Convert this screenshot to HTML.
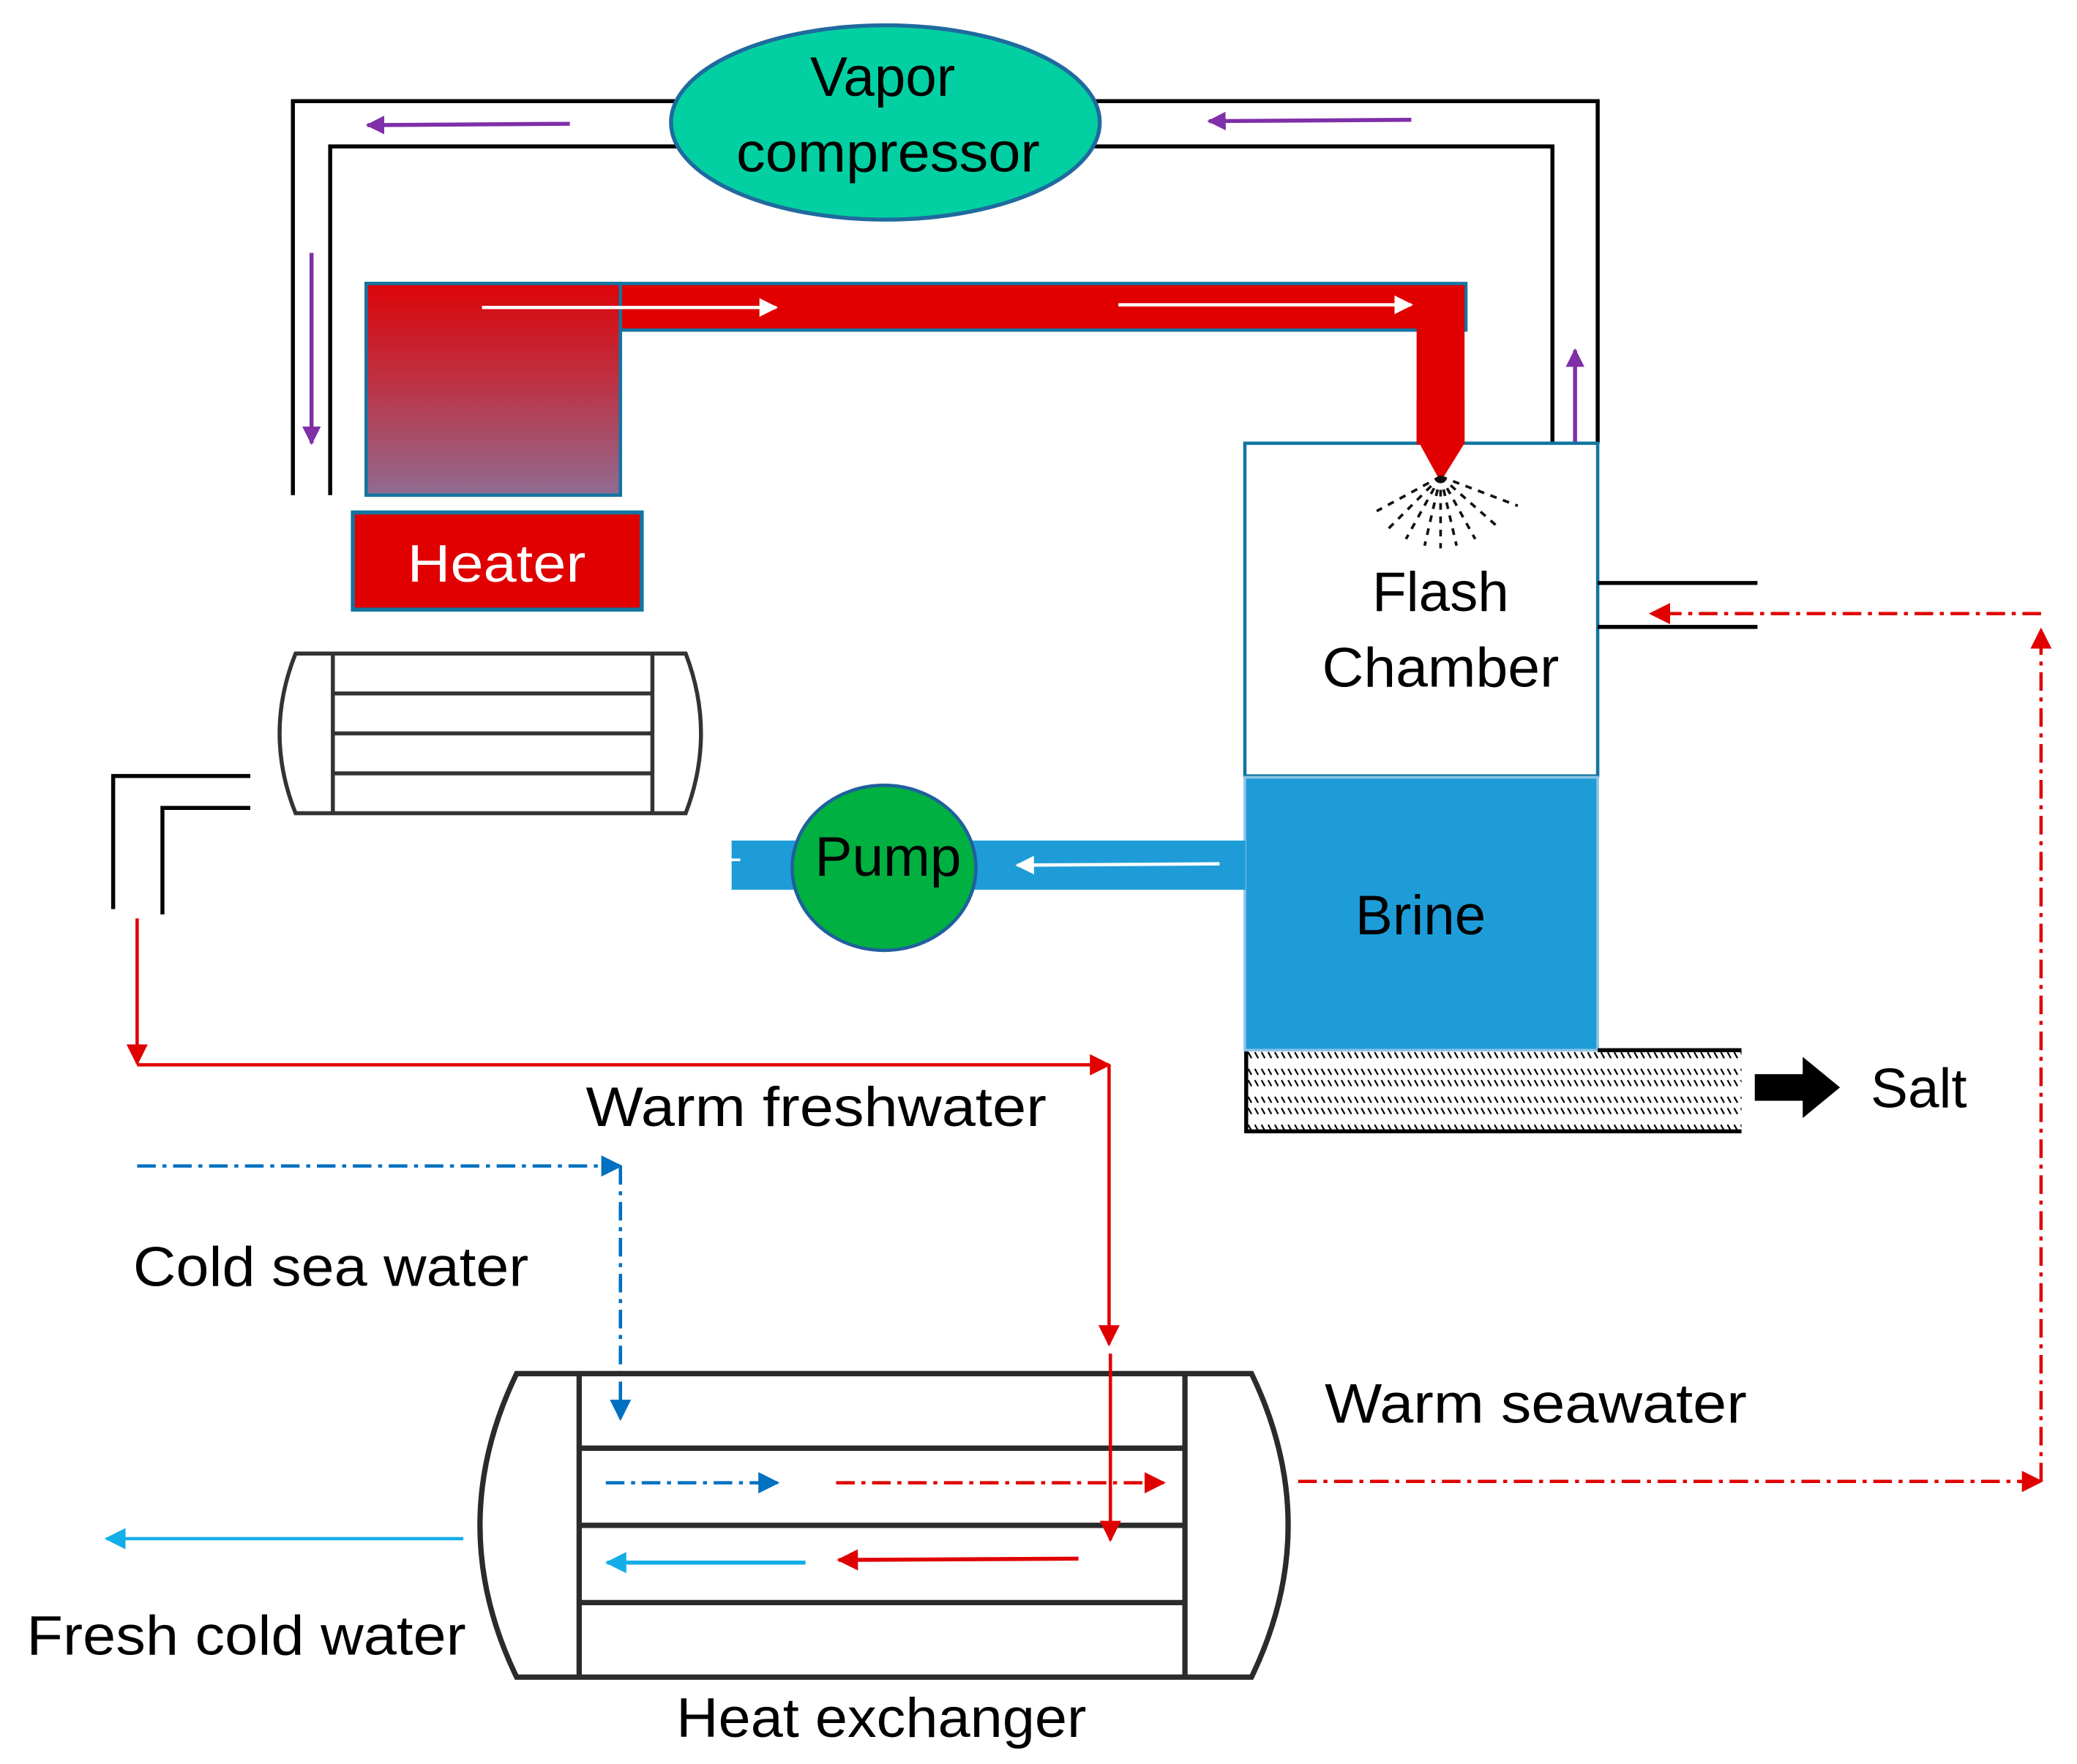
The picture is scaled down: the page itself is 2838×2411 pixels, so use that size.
<!DOCTYPE html>
<html><head><meta charset="utf-8"><style>html,body{margin:0;padding:0;background:#fff}svg{display:block}</style></head>
<body>
<svg width="2838" height="2411" viewBox="0 0 1560 1325.3" preserveAspectRatio="none" xmlns="http://www.w3.org/2000/svg" font-family="'Liberation Sans', sans-serif">
<defs>
<linearGradient id="hg" x1="0" y1="0" x2="0" y2="1"><stop offset="0" stop-color="#dc0408"/><stop offset="0.5" stop-color="#bb3548"/><stop offset="1" stop-color="#906c92"/></linearGradient>
<marker id="ap" viewBox="0 0 10 10" refX="9" refY="5" markerWidth="14" markerHeight="14" orient="auto" markerUnits="userSpaceOnUse"><path d="M0,0L10,5L0,10z" fill="#7f2fa8"/></marker>
<marker id="aw" viewBox="0 0 10 10" refX="9" refY="5" markerWidth="18" markerHeight="14" orient="auto" markerUnits="userSpaceOnUse"><path d="M0,0L10,5L0,10z" fill="#fff"/></marker>
<marker id="ar" viewBox="0 0 10 10" refX="9" refY="5" markerWidth="16" markerHeight="16" orient="auto" markerUnits="userSpaceOnUse"><path d="M0,0L10,5L0,10z" fill="#e00000"/></marker>
<marker id="ab" viewBox="0 0 10 10" refX="9" refY="5" markerWidth="16" markerHeight="16" orient="auto" markerUnits="userSpaceOnUse"><path d="M0,0L10,5L0,10z" fill="#0070c0"/></marker>
<marker id="alb" viewBox="0 0 10 10" refX="9" refY="5" markerWidth="16" markerHeight="16" orient="auto" markerUnits="userSpaceOnUse"><path d="M0,0L10,5L0,10z" fill="#13aee8"/></marker>
<pattern id="hatch" width="5" height="21" patternUnits="userSpaceOnUse" x="937" y="790"><path d="M0.5,0.5L3,5 M0.5,13L3,17.5 M0.5,25L3,29" stroke="#000" stroke-width="1.2"/></pattern>
</defs>

<g stroke="#000" stroke-width="3" fill="none">
<polyline points="220,372 220,76 510,76"/>
<polyline points="822,76 1200,76 1200,333"/>
<polyline points="248,372 248,110 510,110"/>
<polyline points="822,110 1166,110 1166,333"/>
</g>
<ellipse cx="665" cy="92" rx="161" ry="73" fill="#02d0a2" stroke="#1f6a9e" stroke-width="3"/>
<text x="663" y="72" font-size="42" text-anchor="middle">Vapor</text>
<text x="667" y="129" font-size="42" text-anchor="middle" textLength="228" lengthAdjust="spacingAndGlyphs">compressor</text>
<g stroke="#7f2fa8" stroke-width="3">
<line x1="428" y1="93" x2="276" y2="94" marker-end="url(#ap)"/>
<line x1="1060" y1="90" x2="908" y2="91" marker-end="url(#ap)"/>
<line x1="234" y1="190" x2="234" y2="333" marker-end="url(#ap)"/>
<line x1="1183" y1="415" x2="1183" y2="263" marker-end="url(#ap)"/>
</g>
<rect x="275" y="213" width="826" height="35" fill="#e00000" stroke="#1275a0" stroke-width="2.5"/>
<rect x="275" y="213" width="191" height="159" fill="url(#hg)" stroke="#1275a0" stroke-width="2.5"/>
<line x1="466" y1="215" x2="466" y2="247" stroke="#1275a0" stroke-width="2"/>
<rect x="1064" y="215" width="36" height="118" fill="#e00000"/>
<path d="M1066,333L1100,333L1082,362z" fill="#e00000"/>
<g stroke="#fff" stroke-width="2.5"><line x1="362" y1="231" x2="583" y2="231" marker-end="url(#aw)"/><line x1="840" y1="229" x2="1060" y2="229" marker-end="url(#aw)"/></g>
<rect x="265" y="385" width="217" height="73" fill="#e00000" stroke="#1275a0" stroke-width="3"/>
<text x="373" y="437" font-size="40" fill="#fff" text-anchor="middle" textLength="134" lengthAdjust="spacingAndGlyphs">Heater</text>
<g stroke="#333" stroke-width="3" fill="none">
<path d="M222,491L515,491Q538,551 515,611L222,611Q198,551 222,491z"/>
<line x1="250" y1="491" x2="250" y2="611"/><line x1="490" y1="491" x2="490" y2="611"/>
<line x1="250" y1="521" x2="490" y2="521"/><line x1="250" y1="551" x2="490" y2="551"/><line x1="250" y1="581" x2="490" y2="581"/>
</g>
<g stroke="#000" stroke-width="3" fill="none">
<polyline points="188,583 85,583 85,683"/><polyline points="188,607 122,607 122,687"/>
</g>
<g stroke="#e00000" stroke-width="2.5" fill="none">
<line x1="103" y1="690" x2="103" y2="799" marker-end="url(#ar)"/>
<line x1="103" y1="800" x2="833" y2="800" marker-end="url(#ar)"/>
<line x1="833" y1="800" x2="833" y2="1010" marker-end="url(#ar)"/>
</g>
<text x="440" y="846" font-size="42" textLength="346" lengthAdjust="spacingAndGlyphs">Warm freshwater</text>
<g stroke="#0070c0" stroke-width="2.5" fill="none" stroke-dasharray="14,5,3,5">
<line x1="103" y1="876" x2="466" y2="876" marker-end="url(#ab)"/>
<line x1="466" y1="876" x2="466" y2="1066" marker-end="url(#ab)"/>
</g>
<text x="100" y="966" font-size="42" textLength="297" lengthAdjust="spacingAndGlyphs">Cold sea water</text>
<rect x="935" y="333" width="265" height="250" fill="#fff" stroke="#1275a0" stroke-width="2.5"/>
<path d="M1066,333L1100,333L1082,362z" fill="#e00000"/>
<rect x="1064" y="300" width="36" height="34" fill="#e00000"/>
<g stroke="#111" stroke-width="2" stroke-dasharray="5,5">
<line x1="1082" y1="358" x2="1034" y2="384"/><line x1="1082" y1="358" x2="1040" y2="400"/><line x1="1082" y1="358" x2="1056" y2="405"/>
<line x1="1082" y1="358" x2="1070" y2="410"/><line x1="1082" y1="358" x2="1082" y2="412"/><line x1="1082" y1="358" x2="1094" y2="410"/>
<line x1="1082" y1="358" x2="1108" y2="405"/><line x1="1082" y1="358" x2="1124" y2="395"/><line x1="1082" y1="358" x2="1140" y2="380"/>
</g>
<text x="1082" y="459" font-size="42" text-anchor="middle">Flash</text>
<text x="1082" y="516" font-size="42" text-anchor="middle" textLength="178" lengthAdjust="spacingAndGlyphs">Chamber</text>
<rect x="935" y="584" width="265" height="205" fill="#1e9cd8" stroke="#8cc4e6" stroke-width="2"/>
<text x="1067" y="702" font-size="42" text-anchor="middle">Brine</text>
<rect x="936" y="790" width="372" height="60" fill="url(#hatch)"/>
<polyline points="1200,789 1308,789" stroke="#000" stroke-width="3"/>
<polyline points="936,790 936,850 1308,850" stroke="#000" stroke-width="3" fill="none"/>
<path d="M1318,807L1354,807L1354,794L1382,817L1354,840L1354,827L1318,827z" fill="#000"/>
<text x="1405" y="832" font-size="42">Salt</text>
<rect x="550" y="632" width="385" height="36" fill="#1e9cd8" stroke="#1e9cd8"/>
<line x1="548" y1="646" x2="556" y2="646" stroke="#fff" stroke-width="2"/>
<ellipse cx="664" cy="652" rx="69" ry="62" fill="#00b040" stroke="#1f5f9e" stroke-width="2.5"/>
<text x="667" y="658" font-size="42" text-anchor="middle" textLength="110" lengthAdjust="spacingAndGlyphs">Pump</text>
<line x1="916" y1="649" x2="764" y2="650" stroke="#fff" stroke-width="2.5" marker-end="url(#aw)"/>
<g stroke="#000" stroke-width="3"><line x1="1200" y1="438" x2="1320" y2="438"/><line x1="1200" y1="471" x2="1320" y2="471"/></g>
<g stroke="#e00000" stroke-width="2.5" fill="none" stroke-dasharray="14,5,3,5">
<line x1="1533" y1="461" x2="1240" y2="461" marker-end="url(#ar)"/>
<line x1="1533" y1="1113" x2="1533" y2="473" marker-end="url(#ar)"/>
<line x1="975" y1="1113" x2="1533" y2="1113" marker-end="url(#ar)"/>
</g>
<text x="995" y="1069" font-size="42" textLength="317" lengthAdjust="spacingAndGlyphs">Warm seawater</text>
<g stroke="#2b2b2b" stroke-width="4" fill="none">
<path d="M388,1032L940,1032Q995,1146 940,1260L388,1260Q333,1146 388,1032z"/>
<line x1="435" y1="1032" x2="435" y2="1260"/><line x1="890" y1="1032" x2="890" y2="1260"/>
<line x1="435" y1="1088" x2="890" y2="1088"/><line x1="435" y1="1146" x2="890" y2="1146"/><line x1="435" y1="1204" x2="890" y2="1204"/>
</g>
<g stroke-width="2.5" fill="none" stroke-dasharray="14,5,3,5">
<line x1="455" y1="1114" x2="584" y2="1114" stroke="#0070c0" marker-end="url(#ab)"/>
<line x1="628" y1="1114" x2="874" y2="1114" stroke="#e00000" marker-end="url(#ar)"/>
</g>
<line x1="834" y1="1017" x2="834" y2="1157" stroke="#e00000" stroke-width="2.5" marker-end="url(#ar)"/>
<line x1="605" y1="1174" x2="456" y2="1174" stroke="#13aee8" stroke-width="3" marker-end="url(#alb)"/>
<line x1="810" y1="1171" x2="630" y2="1172" stroke="#e00000" stroke-width="3" marker-end="url(#ar)"/>
<line x1="348" y1="1156" x2="80" y2="1156" stroke="#13aee8" stroke-width="2.5" marker-end="url(#alb)"/>
<text x="20" y="1243" font-size="42" textLength="330" lengthAdjust="spacingAndGlyphs">Fresh cold water</text>
<text x="662" y="1305" font-size="42" text-anchor="middle" textLength="308" lengthAdjust="spacingAndGlyphs">Heat exchanger</text>
</svg>
</body></html>
